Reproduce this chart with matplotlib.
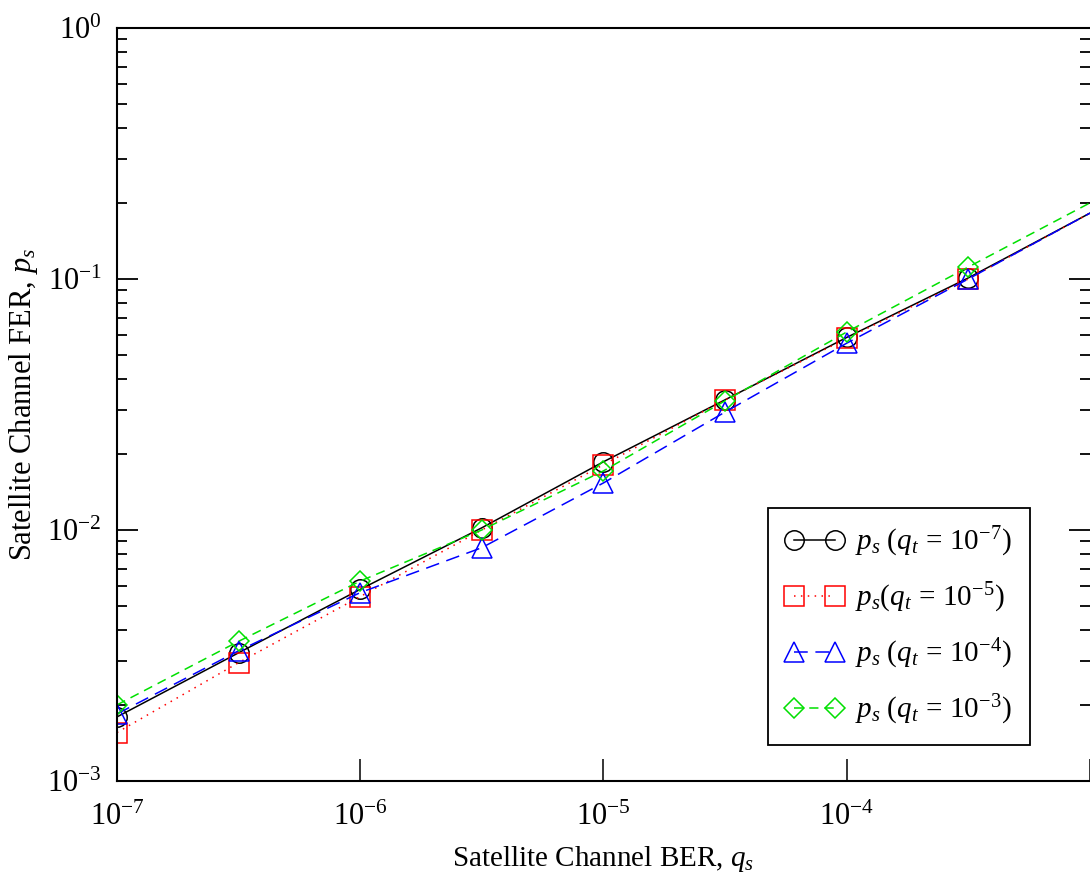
import numpy as np
import matplotlib
matplotlib.use("Agg")
import matplotlib.pyplot as plt
from matplotlib.ticker import LogLocator, FuncFormatter, NullFormatter

plt.rcParams['font.family'] = 'Liberation Serif'
plt.rcParams['mathtext.fontset'] = 'custom'
plt.rcParams['mathtext.rm'] = 'Liberation Serif'
plt.rcParams['mathtext.it'] = 'Liberation Serif:italic'
plt.rcParams['mathtext.default'] = 'it'

# satellite channel BER (x) and FER for each terrestrial BER q_t
qs = [1e-7, 3.16e-7, 1e-6, 3.16e-6, 1e-5, 3.16e-5, 1e-4, 3.16e-4, 1e-3]
ps_qt7 = [1.80e-3, 3.24e-3, 5.80e-3, 1.02e-2, 1.87e-2, 3.30e-2, 5.85e-2, 0.101, 0.183]
ps_qt5 = [1.56e-3, 2.96e-3, 5.43e-3, 1.00e-2, 1.82e-2, 3.30e-2, 5.80e-2, 0.100, 0.183]
ps_qt4 = [1.85e-3, 3.30e-3, 5.63e-3, 8.50e-3, 1.54e-2, 2.95e-2, 5.55e-2, 0.100, 0.183]
ps_qt3 = [2.01e-3, 3.60e-3, 6.26e-3, 1.00e-2, 1.72e-2, 3.27e-2, 6.15e-2, 0.1116, 0.201]

labels = [r"$p_s\ (q_t\,=\,10^{-7})$", r"$p_s(q_t\,=\,10^{-5})$",
          r"$p_s\ (q_t\,=\,10^{-4})$", r"$p_s\ (q_t\,=\,10^{-3})$"]

fig = plt.figure(figsize=(10.9, 8.88), dpi=100)
ax = fig.add_axes([0.1073, 0.1205, 0.8927, 0.848])

green = '#00e000'
mk = slice(0, 8)  # no marker on the last point at the right edge
ax.plot(qs, ps_qt7, color='black', lw=1.1, marker='o', ms=14, mfc='none', mew=1.1,
        markevery=mk, label=labels[0])
ax.plot(qs, ps_qt5, color='red', lw=1.1, ls=(0, (1, 3.5)), marker='s', ms=14, mfc='none', mew=1.1,
        markevery=mk, label=labels[1])
ax.plot(qs, ps_qt4, color='blue', lw=1.1, ls=(0, (9, 5)), marker='^', ms=15, mfc='none', mew=1.1,
        markevery=mk, label=labels[2])
ax.plot(qs, ps_qt3, color=green, lw=1.1, ls=(0, (6, 4)), marker='D', ms=10, mfc='none', mew=1.1,
        markevery=mk, label=labels[3])

ax.set_xscale('log')
ax.set_yscale('log')
ax.set_xlim(1e-7, 1e-3)
ax.set_ylim(1e-3, 1e0)

def sci(v, pos):
    e = int(round(np.log10(v)))
    return r"$\mathrm{10^{%d}}$" % e

ax.xaxis.set_major_locator(LogLocator(base=10, numticks=10))
ax.xaxis.set_minor_locator(LogLocator(base=10, subs=[], numticks=10))
ax.xaxis.set_major_formatter(FuncFormatter(lambda v, p: "" if v > 5e-4 else sci(v, p)))
ax.yaxis.set_major_formatter(FuncFormatter(sci))
ax.yaxis.set_minor_locator(LogLocator(base=10, subs=np.arange(2, 10), numticks=10))
ax.yaxis.set_minor_formatter(NullFormatter())

ax.tick_params(axis='x', which='both', direction='in', top=False, bottom=True,
               length=16, width=1.1, labelsize=22, pad=16)
ax.tick_params(axis='y', which='major', direction='in', left=True, right=True,
               length=15, width=1.3, labelsize=22, pad=11)
ax.tick_params(axis='y', which='minor', direction='in', left=True, right=True,
               length=7, width=1.3)

for s in ['left', 'bottom', 'top']:
    ax.spines[s].set_linewidth(1.5)
ax.spines['right'].set_visible(False)

ax.set_xlabel(r"Satellite Channel BER, $q_s$", fontsize=21, labelpad=8)
ax.set_ylabel(r"Satellite Channel FER, $p_s$", fontsize=22)
ax.yaxis.set_label_coords(-0.079, 0.5)

leg = ax.legend(loc='lower left', bbox_to_anchor=(0.669, 0.048), borderaxespad=0,
                fontsize=21, numpoints=2, handlelength=2.0, handletextpad=0.4,
                labelspacing=0.75, fancybox=False, framealpha=1, edgecolor='black',
                borderpad=0.6)
leg.get_frame().set_linewidth(1.3)

plt.savefig("out.png", dpi=100)
